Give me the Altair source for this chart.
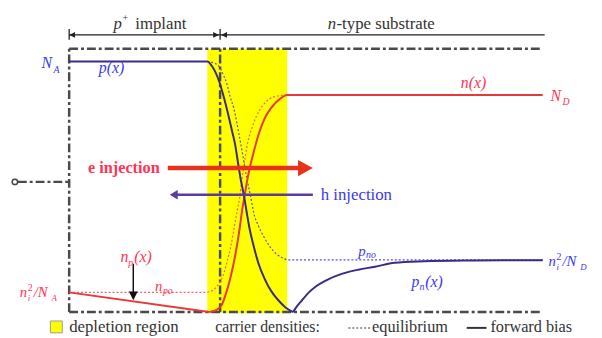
import altair as alt
import pandas as pd

# ---------------- values ----------------
# x: position along the device (frame starts at 0, junction at 153)
# y: carrier-density level (0 = bottom of frame, 267 = top of frame)
p_fwd_x = [0, 140, 145, 152, 157, 162, 165, 168, 172, 174, 177, 180, 183, 187, 192, 198, 205, 212, 219, 227]
p_fwd_y = [254, 254, 249, 234, 217, 197, 184, 171, 146, 134, 119, 101, 84, 67, 49, 34, 21, 12, 5, 0]
pn_fwd_x = [227, 231, 236, 243, 250, 260, 277, 293, 310, 330, 360, 400, 440, 480]
pn_fwd_y = [0, 6, 12, 20, 26, 32, 39, 43, 46, 50, 51.5, 52.3, 52.5, 52.5]
np_fwd_x = [0, 142]
np_fwd_y = [20, 0]
n_fwd_x = [142, 149, 155, 159, 163, 166, 170, 173, 175, 178, 180, 183, 187, 192, 198, 204, 210, 216, 221, 480]
n_fwd_y = [0, 2, 8, 19, 33, 46, 67, 86, 101, 119, 131, 146, 162, 180, 196, 206, 213, 218, 220, 220]
p_eq_x = [140, 148, 152, 156, 160, 163, 167, 172, 176, 180, 184, 187, 192, 197, 203, 210, 216, 222, 480]
p_eq_y = [254, 252, 249, 241, 231, 219, 206, 181, 159, 136, 117, 101, 87, 77, 67, 59, 55, 53, 53]
n_eq_x = [0, 137, 143, 148, 153, 157, 160, 164, 167, 170, 173, 175, 178, 180, 185, 190, 196, 203, 211, 220]
n_eq_y = [20, 20, 21, 24, 31, 40, 51, 67, 84, 101, 117, 134, 154, 167, 186, 199, 209, 216, 219, 220]

depletion_edges = [140, 221]
junction = 153
frame_right = 478

BLUE = "#3a3af0"
RED = "#ff3355"
DARK = "#333333"
FONT = "Liberation Serif, DejaVu Serif, Noto Serif, FreeSerif, Nimbus Roman, Times New Roman, Times, serif"

# label texts with their anchor (x, baseline y), font size, colour
italic_labels = [
    ("p", 45, 287, 17, DARK), ("n", 262, 287, 17, DARK),
    ("N", -28, 247, 16, BLUE), ("A", -16, 242, 10, BLUE),
    ("p(x)", 30, 242, 16, BLUE),
    ("n(x)", 397, 227, 16, RED),
    ("N", 488, 214, 16, RED), ("D", 500, 210, 10, RED),
    ("n", 52, 51, 16, RED), ("p", 60, 47, 10, RED), ("(x)", 66, 51, 16, RED),
    ("n", 87, 21, 15, RED), ("po", 95, 18, 10, RED),
    ("n", -50, 15, 15, RED), ("i", -42, 11, 9, RED), ("/N", -36, 15, 15, RED), ("A", -18, 11, 9, RED),
    ("p", 293, 57, 15, BLUE), ("no", 301, 55, 10, BLUE),
    ("p", 347, 25, 16, BLUE), ("n", 355, 22, 10, BLUE), ("(x)", 361, 25, 16, BLUE),
    ("n", 486, 47, 15, BLUE), ("i", 494, 43, 9, BLUE), ("/N", 500, 47, 15, BLUE), ("D", 518, 43, 9, BLUE),
]
normal_labels = [
    ("+", 54, 295, 10, DARK), ("implant", 67, 287, 17, DARK), ("-type substrate", 271, 287, 17, DARK),
    ("2", -42, 21, 10, RED), ("2", 494, 53, 10, BLUE),
    ("h injection", 255, 114, 17, BLUE),
    ("depletion region", 0, -20, 17, DARK), ("carrier densities:", 148, -20, 16, DARK),
    ("equilibrium", 307, -20, 16.5, DARK), ("forward bias", 427, -20, 16.5, DARK),
]
bold_labels = [("e injection", 19, 141, 16.5, RED)]

# ---------------- chart ----------------
xs = alt.Scale(domain=[-62, 532], nice=False, zero=False)
ys = alt.Scale(domain=[-24, 306], nice=False, zero=False)
X = alt.X("x:Q", scale=xs, axis=None)
Y = alt.Y("y:Q", scale=ys, axis=None)
X2 = alt.X2("x2:Q")
Y2 = alt.Y2("y2:Q")


def pts(xv, yv):
    return pd.DataFrame({"x": xv, "y": yv})


def segs(rows):
    return pd.DataFrame(rows, columns=["x", "y", "x2", "y2"])


def line(xv, yv, color, width=2.0, dash=None):
    kw = dict(color=color, strokeWidth=width, interpolate="monotone")
    if dash:
        kw["strokeDash"] = dash
    return alt.Chart(pts(xv, yv)).mark_line(**kw).encode(X, Y)


def head(x, y, shape, size, color):
    return alt.Chart(pts([x], [y])).mark_point(
        shape=shape, size=size, filled=True, color=color, opacity=1, strokeWidth=0
    ).encode(X, Y)


def labels(rows, style="normal", weight="normal"):
    df = pd.DataFrame(rows, columns=["text", "x", "y", "size", "color"])
    return alt.Chart(df).mark_text(
        align="left", baseline="alphabetic", font=FONT, fontStyle=style, fontWeight=weight
    ).encode(X, Y, text="text:N", size=alt.Size("size:Q", scale=None),
             color=alt.Color("color:N", scale=None))


yellow = alt.Chart(segs([(depletion_edges[0], -1, depletion_edges[1], 267)])).mark_rect(
    color="#ffff00").encode(X, Y, X2, Y2)

frame = alt.Chart(segs([
    (0, 267, frame_right, 267),
    (0, 0, frame_right, 0),
    (0, 0, 0, 267),
    (junction, 0, junction, 267),
    (-52, 132, 0, 132),
])).mark_rule(color="#4a4a4a", strokeWidth=2.5, strokeDash=[9, 3, 3, 3]).encode(X, Y, X2, Y2)

dim = alt.Chart(segs([
    (0, 281, 482, 281),
    (0, 276, 0, 287),
    (junction, 276, junction, 287),
])).mark_rule(color="#222222", strokeWidth=1.3).encode(X, Y, X2, Y2)

circle = alt.Chart(pts([-55], [132])).mark_point(
    shape="circle", size=30, filled=False, color="#444444", strokeWidth=1.5, opacity=1).encode(X, Y)

red_arrow = alt.Chart(segs([(100, 146, 234, 146)])).mark_rule(
    color="#e8321e", strokeWidth=4.5).encode(X, Y, X2, Y2)
h_arrow = alt.Chart(segs([(108, 119, 247, 119)])).mark_rule(
    color="#5b3c9e", strokeWidth=2.5).encode(X, Y, X2, Y2)
down_arrow = alt.Chart(segs([(65, 49, 65, 20)])).mark_rule(
    color="#111111", strokeWidth=1.5).encode(X, Y, X2, Y2)

legend_box = alt.Chart(segs([(-19, -21, -7, -9)])).mark_rect(
    color="#ffff00", stroke="#999999", strokeWidth=1).encode(X, Y, X2, Y2)
legend_eq = alt.Chart(segs([(283, -16, 305, -16)])).mark_rule(
    color="#777777", strokeWidth=1.5, strokeDash=[2, 2]).encode(X, Y, X2, Y2)
legend_fb = alt.Chart(segs([(403, -16, 423, -16)])).mark_rule(
    color="#333333", strokeWidth=2).encode(X, Y, X2, Y2)

chart = alt.layer(
    yellow,
    frame,
    dim,
    head(0, 281, "M0,0L2,-1L2,1Z", 36, "#222222"),
    head(152, 281, "M0,0L-2,-1L-2,1Z", 36, "#222222"),
    head(154, 281, "M0,0L2,-1L2,1Z", 36, "#222222"),
    circle,
    line(p_eq_x, p_eq_y, "#5a50c8", 1.2, [2, 2]),
    line(n_eq_x, n_eq_y, "#f06070", 1.2, [2, 2]),
    line(np_fwd_x, np_fwd_y, "#e8383a", 2.0),
    line(n_fwd_x, n_fwd_y, "#e8383a", 2.0),
    line(p_fwd_x, p_fwd_y, "#3a2a8a", 2.0),
    line(pn_fwd_x, pn_fwd_y, "#3a2a8a", 2.0),
    red_arrow,
    head(247, 146, "M0,0L-2,-1.1L-2,1.1Z", 225, "#e8321e"),
    h_arrow,
    head(102, 119, "M0,0L2,-1.2L2,1.2Z", 64, "#5b3c9e"),
    down_arrow,
    head(65, 12, "M0,0L-1,-2L1,-2Z", 81, "#111111"),
    legend_box,
    legend_eq,
    legend_fb,
    labels(italic_labels, style="italic"),
    labels(normal_labels),
    labels(bold_labels, weight="bold"),
).properties(
    width=594, height=330, padding=0, autosize=alt.AutoSizeParams(type="none")
).configure_view(stroke=None)

chart.save("out.html", embed_options={"renderer": "svg", "actions": False})
